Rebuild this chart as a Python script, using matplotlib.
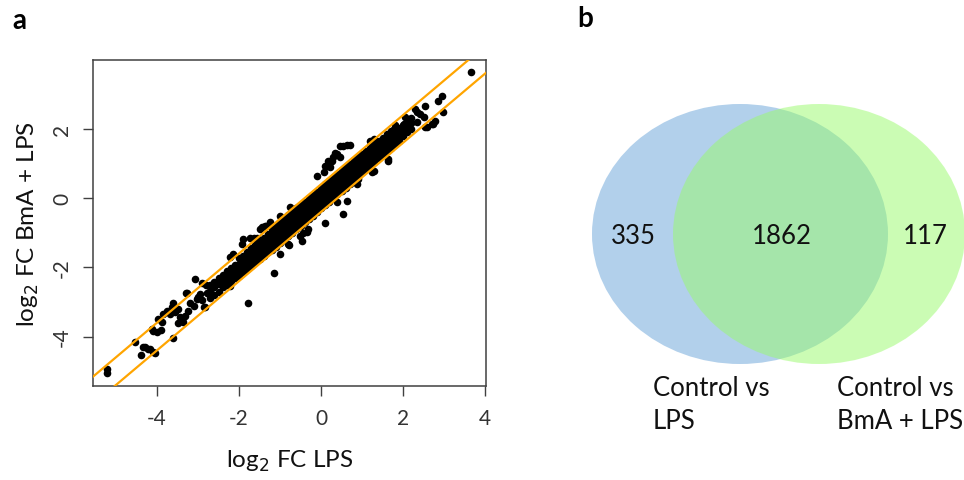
import matplotlib
matplotlib.use("Agg")
import matplotlib.pyplot as plt
from matplotlib.patches import Ellipse

plt.rcParams['font.family'] = ['Lato', 'DejaVu Sans']

# ---------------- data: panel a (log2 fold changes) ----------------
core_pts = [
    (-2.7, -2.88), (-2.7, -2.70), (-2.7, -2.52),
    (-2.6, -2.79), (-2.6, -2.58), (-2.6, -2.43),
    (-2.5, -2.70), (-2.5, -2.49), (-2.5, -2.31),
    (-2.4, -2.57), (-2.4, -2.40), (-2.4, -2.22),
    (-2.3, -2.50), (-2.3, -2.28), (-2.3, -2.12),
    (-2.2, -2.41), (-2.2, -2.19), (-2.2, -2.01),
    (-2.1, -2.30), (-2.1, -2.12), (-2.1, -1.92),
    (-2.0, -2.25), (-2.0, -2.09), (-2.0, -1.90), (-2.0, -1.74),
    (-1.9, -2.14), (-1.9, -1.97), (-1.9, -1.81), (-1.9, -1.66),
    (-1.8, -2.06), (-1.8, -1.88), (-1.8, -1.70), (-1.8, -1.55),
    (-1.7, -1.95), (-1.7, -1.79), (-1.7, -1.60), (-1.7, -1.44),
    (-1.6, -1.86), (-1.6, -1.68), (-1.6, -1.51), (-1.6, -1.35),
    (-1.5, -1.75), (-1.5, -1.58), (-1.5, -1.40), (-1.5, -1.24),
    (-1.4, -1.66), (-1.4, -1.49), (-1.4, -1.30), (-1.4, -1.14),
    (-1.3, -1.55), (-1.3, -1.38), (-1.3, -1.21), (-1.3, -1.04),
    (-1.2, -1.50), (-1.2, -1.35), (-1.2, -1.20), (-1.2, -1.05), (-1.2, -0.90),
    (-1.1, -1.41), (-1.1, -1.25), (-1.1, -1.10), (-1.1, -0.95), (-1.1, -0.80),
    (-1.0, -1.30), (-1.0, -1.16), (-1.0, -1.00), (-1.0, -0.85), (-1.0, -0.70),
    (-0.9, -1.20), (-0.9, -1.05), (-0.9, -0.91), (-0.9, -0.75), (-0.9, -0.61),
    (-0.8, -1.11), (-0.8, -0.95), (-0.8, -0.80), (-0.8, -0.66), (-0.8, -0.50),
    (-0.7, -1.00), (-0.7, -0.86), (-0.7, -0.70), (-0.7, -0.55), (-0.7, -0.41),
    (-0.6, -0.90), (-0.6, -0.75), (-0.6, -0.61), (-0.6, -0.45), (-0.6, -0.30),
    (-0.5, -0.81), (-0.5, -0.65), (-0.5, -0.50), (-0.5, -0.35), (-0.5, -0.20),
    (-0.4, -0.70), (-0.4, -0.56), (-0.4, -0.40), (-0.4, -0.25), (-0.4, -0.11),
    (-0.3, -0.60), (-0.3, -0.45), (-0.3, -0.31), (-0.3, -0.15), (-0.3, 0.00),
    (-0.2, -0.51), (-0.2, -0.35), (-0.2, -0.20), (-0.2, -0.05), (-0.2, 0.10),
    (-0.1, -0.40), (-0.1, -0.26), (-0.1, -0.10), (-0.1, 0.05), (-0.1, 0.19),
    (0.0, -0.30), (0.0, -0.15), (0.0, 0.00), (0.0, 0.15), (0.0, 0.30),
    (0.1, -0.21), (0.1, -0.05), (0.1, 0.10), (0.1, 0.25), (0.1, 0.40),
    (0.2, -0.10), (0.2, 0.05), (0.2, 0.20), (0.2, 0.34), (0.2, 0.49),
    (0.3, 0.00), (0.3, 0.15), (0.3, 0.30), (0.3, 0.45), (0.3, 0.59),
    (0.4, 0.11), (0.4, 0.25), (0.4, 0.40), (0.4, 0.55), (0.4, 0.70),
    (0.5, 0.20), (0.5, 0.35), (0.5, 0.51), (0.5, 0.65), (0.5, 0.80),
    (0.6, 0.30), (0.6, 0.45), (0.6, 0.60), (0.6, 0.74), (0.6, 0.90),
    (0.7, 0.41), (0.7, 0.55), (0.7, 0.70), (0.7, 0.85), (0.7, 0.99),
    (0.8, 0.50), (0.8, 0.65), (0.8, 0.80), (0.8, 0.95), (0.8, 1.10),
    (0.9, 0.60), (0.9, 0.75), (0.9, 0.90), (0.9, 1.05), (0.9, 1.19),
    (1.0, 0.75), (1.0, 0.92), (1.0, 1.10), (1.0, 1.26),
    (1.1, 0.85), (1.1, 1.02), (1.1, 1.20), (1.1, 1.35),
    (1.2, 0.96), (1.2, 1.12), (1.2, 1.30), (1.2, 1.46),
    (1.3, 1.05), (1.3, 1.22), (1.3, 1.40), (1.3, 1.55),
    (1.4, 1.15), (1.4, 1.32), (1.4, 1.50), (1.4, 1.66),
    (1.5, 1.25), (1.5, 1.42), (1.5, 1.60), (1.5, 1.75),
    (1.6, 1.36), (1.6, 1.52), (1.6, 1.70), (1.6, 1.86),
    (1.7, 1.45), (1.7, 1.62), (1.7, 1.80), (1.7, 1.95),
    (1.8, 1.56), (1.8, 1.72), (1.8, 1.90),
    (1.9, 1.66), (1.9, 1.82), (1.9, 2.00),
    (2.0, 1.78), (2.0, 1.95), (2.0, 2.12),
    (2.1, 1.90), (2.1, 2.08),
    (2.2, 2.00), (2.2, 2.16),
    # in-between columns to make the dense centre solid
    (-1.45, -1.52), (-1.35, -1.30), (-1.25, -1.12), (-1.15, -1.30), (-1.05, -1.05),
    (-0.95, -0.80), (-0.85, -1.00), (-0.75, -0.72), (-0.65, -0.50), (-0.55, -0.75),
    (-0.45, -0.46), (-0.35, -0.20), (-0.25, -0.40), (-0.15, -0.12), (-0.05, 0.12),
    (0.05, -0.18), (0.15, 0.08), (0.25, 0.35), (0.35, 0.10), (0.45, 0.45),
    (0.55, 0.70), (0.65, 0.45), (0.75, 0.78), (0.85, 1.00), (0.95, 0.80),
    (1.05, 1.08), (1.15, 1.28), (1.25, 1.05), (1.35, 1.38), (1.45, 1.58),
    (-1.95, -1.90), (-1.85, -1.75), (-1.75, -1.85), (-1.65, -1.55), (-1.55, -1.65),
]

upper_right_pts = [
    (3.66, 3.65), (2.94, 2.94), (2.86, 2.81), (2.98, 2.48), (2.70, 2.14),
    (2.54, 2.04), (2.54, 2.67), (2.29, 2.57), (2.33, 2.48), (2.41, 2.43),
    (2.50, 2.33), (2.05, 2.33), (2.10, 2.22), (2.02, 2.13), (2.15, 2.10),
    (2.58, 2.04), (2.74, 2.14), (2.78, 2.23), (1.80, 2.10), (1.88, 2.02),
    (1.93, 1.95), (1.76, 1.96), (1.64, 1.08), (1.20, 1.66), (1.28, 1.71),
    (2.20, 2.30), (2.35, 2.20),
]

middle_pts = [
    (0.54, 1.51), (0.71, 1.54), (0.46, 1.51), (0.63, 1.53), (0.38, 1.27),
    (0.30, 1.18), (0.18, 1.08), (0.10, 0.93), (0.22, 0.89), (0.06, 0.74),
    (-0.10, 0.64), (0.34, 1.30), (0.45, 1.20), (0.26, 1.08), (0.14, 0.93),
    (0.54, -0.46), (0.62, -0.08), (0.38, -0.12), (0.10, -0.72), (-0.35, -0.99),
    (-0.51, -1.09), (-0.80, -1.33), (-1.00, -1.62), (-0.31, -0.90), (-0.47, -1.23),
    (-0.43, -1.00), (-0.79, -1.35), (-1.16, -2.17), (-1.77, -3.04), (1.24, 0.74),
    (1.28, 0.79), (0.91, 0.55), (0.87, 0.40), (1.64, 1.13),
    (-0.76, -0.27), (-1.00, -0.51), (-1.24, -0.70), (-1.37, -0.80), (-1.49, -0.90),
    (-1.73, -1.14), (-1.90, -1.18), (-1.93, -1.33), (-2.14, -1.62), (-2.22, -1.71),
    (-1.45, -0.85), (-1.35, -0.82), (-1.56, -1.14), (-1.63, -1.14),
]

tail_pts = [
    (-2.26, -2.49), (-3.07, -2.34), (-3.30, -2.73), (-2.85, -3.14), (-3.64, -3.16),
    (-4.09, -3.83), (-3.60, -4.03), (-3.50, -3.60), (-3.40, -3.52), (-4.54, -4.17),
    (-4.40, -4.54), (-4.30, -4.30), (-4.22, -4.35), (-4.09, -4.44), (-4.05, -4.48),
    (-5.23, -4.94), (-5.23, -5.05), (-4.33, -4.29), (-4.17, -4.36), (-3.97, -3.50),
    (-3.89, -3.59), (-3.76, -3.26), (-3.68, -3.35), (-3.56, -3.30), (-3.48, -3.21),
    (-3.44, -3.45), (-3.36, -3.59), (-3.32, -3.40), (-3.24, -3.26), (-3.20, -3.02),
    (-3.11, -3.11), (-3.03, -2.92), (-2.95, -2.77), (-2.91, -2.44), (-3.28, -2.73),
    (-3.60, -3.02), (-2.83, -3.16), (-3.85, -3.35), (-4.13, -3.79), (-2.79, -2.73),
    (-2.71, -2.68), (-2.63, -2.58), (-2.22, -2.53), (-4.00, -3.87), (-3.90, -3.80),
    (-3.00, -2.85), (-2.90, -2.95), (-2.80, -2.50),
]

band_offsets = [0.4, -0.4]          # orange fold-change limits (y = x +/- offset)
x_ticks = [-4, -2, 0, 2, 4]
y_ticks = [-4, -2, 0, 2]

# ---------------- data: panel b (Venn counts) ----------------
venn_counts = [335, 1862, 117]
venn_labels = ["Control vs\nLPS", "Control vs\nBmA + LPS"]

# ---------------- figure ----------------
fig = plt.figure(figsize=(9.64, 4.81), dpi=100)

ax = fig.add_axes([93 / 964, 1 - 387 / 481, (486 - 93) / 964, (387 - 61) / 481])
all_pts = core_pts + upper_right_pts + middle_pts + tail_pts
lps = [p[0] for p in all_pts]
bma = [p[1] for p in all_pts]
ax.scatter(lps, bma, s=30, c='black', linewidths=0, zorder=2)

ax.set_xlim(-5.56, 4.02)
ax.set_ylim(-5.43, 3.99)
for off in band_offsets:
    ax.axline((0, off), slope=1, color='#FFA500', lw=1.6, zorder=3)

for sp in ax.spines.values():
    sp.set_color('#404040')
    sp.set_linewidth(1.1)
ax.set_xticks(x_ticks)
ax.set_yticks(y_ticks)
ax.tick_params(axis='both', direction='out', length=7, width=1.0, color='#404040',
               labelcolor='#333333', labelsize=15)
ax.tick_params(axis='x', pad=9)
ax.tick_params(axis='y', pad=8)
ax.set_xticklabels([str(t) for t in x_ticks])
ax.set_yticklabels([str(t) for t in y_ticks], rotation=90, va='center')

ax.set_xlabel(r'log$_2$ FC LPS', fontsize=17.5, labelpad=14, color='#111111')
ax.set_ylabel(r'log$_2$ FC BmA + LPS', fontsize=17.5, labelpad=8, color='#111111')

fig.text(12 / 964, 1 - 29 / 481, 'a', fontsize=20, fontweight='bold', ha='left', va='baseline')
fig.text(577 / 964, 1 - 27 / 481, 'b', fontsize=20, fontweight='bold', ha='left', va='baseline')

# ---------------- panel b ----------------
axv = fig.add_axes([560 / 964, 0, 404 / 964, 1])
axv.set_xlim(560, 964)
axv.set_ylim(481, 0)
axv.axis('off')
axv.add_patch(Ellipse((740, 235), 296, 260, facecolor='#B2D0EB', edgecolor='none'))
axv.add_patch(Ellipse((819, 235), 292, 260, facecolor=(153 / 255, 251 / 255, 107 / 255),
                      alpha=0.5, edgecolor='none'))
for cx, n in zip([633, 782, 925], venn_counts):
    axv.text(cx, 237, str(n), fontsize=18.5, ha='center', va='center', color='#111111')
for lx, lab in zip([653, 837], venn_labels):
    axv.text(lx, 376, lab, fontsize=18.5, ha='left', va='top', color='#111111',
             linespacing=1.38)

fig.savefig('out.png', dpi=100)
